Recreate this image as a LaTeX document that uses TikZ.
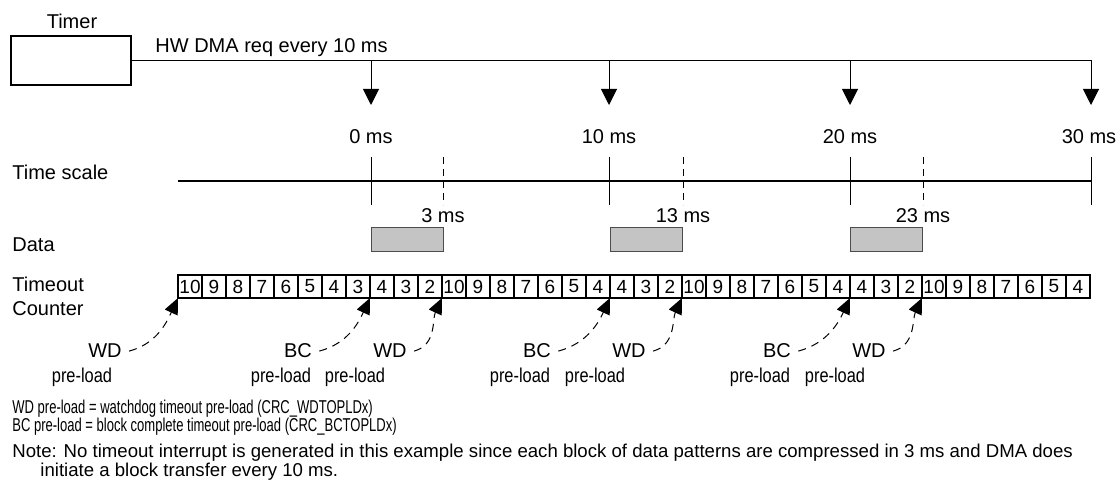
\documentclass[tikz,border=0pt]{standalone}
\usepackage{fontspec}
\setmainfont{Liberation Sans}
\newfontfamily\narrowfont[FakeStretch=0.82]{Liberation Sans}
\newfontfamily\keyfont[FakeStretch=0.7]{Liberation Sans}
\usetikzlibrary{arrows.meta}
\tikzset{
  lbl/.style={anchor=base,inner sep=0pt},
  cell/.style={draw,line width=1pt,minimum width=12pt,minimum height=11.5pt,
    inner sep=0pt,outer sep=0pt,font=\fontsize{9.5}{11}\selectfont},
  req/.style={-{Triangle[width=8pt,length=8pt]}},
  tick/.style={line width=0.5pt},
  blok/.style={draw=black!70,fill=black!23,line width=0.5pt,
    minimum width=36pt,minimum height=12pt,inner sep=0pt},
  load/.style={dashed,dash pattern=on 4pt off 3pt,line width=0.5pt,
    -{Triangle[width=7pt,length=8pt]}},
  note/.style={anchor=base west,inner sep=0pt,font=\fontsize{9.3}{11}\selectfont}
}

\begin{document}
\begin{tikzpicture}[x=0.5pt,y=-0.5pt,font=\fontsize{10}{12}\selectfont]
  \useasboundingbox (0,0) rectangle (1119,491);

  % timer and DMA requests
  \node[draw,line width=1pt,minimum width=60pt,minimum height=24.5pt,inner sep=0pt] (timer) at (71,60.5) {};
  \node[lbl] (timerlbl) at (72,29) {Timer};
  \node[anchor=base west,inner sep=0pt] (hwreq) at (155,53) {HW DMA req every 10 ms};

  \coordinate (R0) at (371,60.5);
  \coordinate (R1) at (609,60.5);
  \coordinate (R2) at (850,60.5);
  \coordinate (R3) at (1091,60.5);
  \coordinate (A0) at (371,105);
  \coordinate (A1) at (609,105);
  \coordinate (A2) at (850,105);
  \coordinate (A3) at (1091,105);

  \draw[req,line width=0.5pt] (timer.east) -- (R3) -- (A3);
  \foreach \i in {0,1,2} \draw[req,line width=0.5pt] (R\i) -- (A\i);

  \node[lbl] (ms0)  at (371,144)  {0 ms};
  \node[lbl] (ms10) at (609,144)  {10 ms};
  \node[lbl] (ms20) at (850,144)  {20 ms};
  \node[lbl] (ms30) at (1089,144) {30 ms};

  % time scale
  \node[anchor=base west,inner sep=0pt] (lscale) at (12,180) {Time scale};
  \coordinate (S0) at (178,181);
  \coordinate (S3) at (1091,181);
  \draw[line width=1pt] (S0) -- (S3);
  \foreach \x in {371,609,850,1091} \draw[tick] (\x,157) -- (\x,205);
  \foreach \x in {443,683,923} \draw[tick,dashed,dash pattern=on 3.5pt off 2.5pt] (\x,157) -- (\x,205);

  \node[lbl] (ms3)  at (443,223) {3 ms};
  \node[lbl] (ms13) at (683,223) {13 ms};
  \node[lbl] (ms23) at (923,223) {23 ms};

  % data blocks
  \node[anchor=base west,inner sep=0pt] (ldata) at (12,252) {Data};
  \node[blok] (d0) at (407,240) {};
  \node[blok] (d1) at (646,240) {};
  \node[blok] (d2) at (886,240) {};

  % timeout counter
  \node[anchor=base west,inner sep=0pt] (ltime) at (12,292) {Timeout};
  \node[anchor=base west,inner sep=0pt] (lcount) at (12,316) {Counter};
  \foreach \v [count=\i] in {10,9,8,7,6,5,4,3,4,3,2,10,9,8,7,6,5,4,4,3,2,10,9,8,7,6,5,4,4,3,2,10,9,8,7,6,5,4}
    \node[cell] (c\i) at ({178+24*\i-12},286.5) {\v};

  % pre-loads
  \foreach \nm/\txt/\lx/\px/\tip in {wd0/WD/105/82/c1.south west,
      bc1/BC/298/281/c8.south east, wd1/WD/390/355/c11.south east,
      bc2/BC/537/520/c18.south east, wd2/WD/629/595/c21.south east,
      bc3/BC/777/760/c28.south east, wd3/WD/869/835/c31.south east}{
    \node[lbl] (\nm) at (\lx,358) {\txt};
    \node[lbl,font=\fontsize{10}{12}\narrowfont] (pl-\nm) at (\px,383) {pre-load};
    \draw[load] ([xshift=3.5pt]\nm.east) to[out=15,in=-115] (\tip);
  }

  % key
  \node[note,font=\fontsize{9.3}{11}\keyfont] (key1)  at (12,414) {WD pre-load = watchdog timeout pre-load (CRC\_WDTOPLDx)};
  \node[note,font=\fontsize{9.3}{11}\keyfont] (key2)  at (12,432) {BC pre-load = block complete timeout pre-load (CRC\_BCTOPLDx)};
  \node[note] (note1) at (12,458) {Note: No timeout interrupt is generated in this example since each block of data patterns are compressed in 3 ms and DMA does};
  \node[note] (note2) at (40,476) {initiate a block transfer every 10 ms.};
\end{tikzpicture}
\end{document}
